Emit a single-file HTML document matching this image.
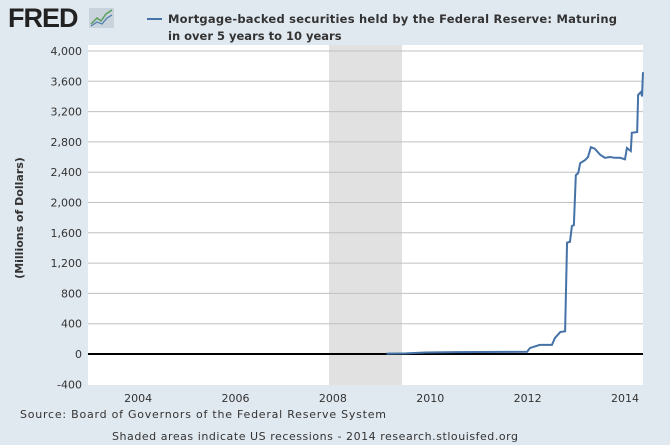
<!DOCTYPE html>
<html><head><meta charset="utf-8"><style>
body{margin:0;background:#e1e9f0;font-family:"DejaVu Sans",sans-serif}
svg{display:block}
</style></head><body>
<svg width="670" height="445" font-family="DejaVu Sans, sans-serif">
<rect width="670" height="445" fill="#e1e9f0"/>
<text x="8" y="27" font-size="27" font-weight="bold" fill="#222" letter-spacing="-1" font-family="Liberation Sans, sans-serif">FRED</text>
<rect x="89" y="8" width="25" height="20" fill="#c8d3dc"/>
<polyline points="91,24 97,18 101,21 106,14 112,10" fill="none" stroke="#5a9e5a" stroke-width="1.5"/>
<polyline points="91,26 97,22 102,24 107,18 112,15" fill="none" stroke="#4a7ab0" stroke-width="1.2"/>
<line x1="147" y1="19" x2="162" y2="19" stroke="#4572a7" stroke-width="2"/>
<text x="168" y="23" font-size="11.5" font-weight="bold" fill="#333" textLength="449">Mortgage-backed securities held by the Federal Reserve: Maturing</text>
<text x="168" y="40" font-size="11.5" font-weight="bold" fill="#333">in over 5 years to 10 years</text>
<g id="plot"></g>
<text transform="translate(23,218) rotate(-90)" text-anchor="middle" font-size="11" font-weight="bold" fill="#333">(Millions of Dollars)</text>
<text x="20" y="418" font-size="11" fill="#333" textLength="366">Source: Board of Governors of the Federal Reserve System</text>
<text x="112" y="440" font-size="11" fill="#333" textLength="406">Shaded areas indicate US recessions - 2014 research.stlouisfed.org</text>
</svg>
<script>
const years=[2009.1,2009.5,2009.9,2010.5,2011.5,2011.99,2012.05,2012.25,2012.50,2012.56,2012.67,2012.77,2012.81,2012.87,2012.91,2012.95,2012.99,2013.04,2013.08,2013.18,2013.24,2013.30,2013.38,2013.49,2013.59,2013.69,2013.79,2013.90,2014.00,2014.04,2014.12,2014.14,2014.25,2014.27,2014.33,2014.35,2014.37];
const values=[5,8,20,25,28,30,80,120,120,210,290,300,1470,1480,1690,1700,2360,2390,2520,2560,2600,2730,2710,2630,2590,2600,2590,2590,2570,2720,2680,2920,2930,3420,3460,3400,3720];
const yTicks=[-400,0,400,800,1200,1600,2000,2400,2800,3200,3600,4000];
const xTicks=[2004,2006,2008,2010,2012,2014];
const recessions=[[2007.92,2009.42]];
const L=88,R=643,T=45,B=385,x0=2002.97,x1=2014.37;
const xs=v=>L+(v-x0)/(x1-x0)*(R-L);
const ys=v=>354-v/4000*303;
const ns="http://www.w3.org/2000/svg",g=document.getElementById('plot');
function mk(t,a){const e=document.createElementNS(ns,t);for(const k in a)e.setAttribute(k,a[k]);g.appendChild(e);return e;}
let e=mk('rect',{x:L,y:T,width:R-L,height:B-T,fill:'#fff'});


recessions.forEach(r=>{const s=mk('rect',{x:xs(r[0]),y:T,width:xs(r[1])-xs(r[0]),height:B-T,fill:'#e1e1e1'});

});
yTicks.forEach(v=>{
 if(v!==0&&v!==-400){const l=mk('line',{x1:L,x2:R,y1:ys(v),y2:ys(v),stroke:'#c0c0c0','stroke-width':1});
 
 }
 const t=mk('text',{x:L-6,y:ys(v)+4,'text-anchor':'end','font-size':11,fill:'#333'});
 t.textContent=v.toLocaleString('en-US');
 
 
});
const z=mk('line',{x1:L,x2:R,y1:ys(0),y2:ys(0),stroke:'#000','stroke-width':2});


xTicks.forEach(v=>{
 const t=mk('text',{x:xs(v),y:402,'text-anchor':'middle','font-size':11,fill:'#333'});
 t.textContent=v;
 
 
});
const p=mk('polyline',{points:years.map((y,i)=>xs(y)+','+ys(values[i])).join(' '),fill:'none',stroke:'#4572a7','stroke-width':2});


</script>
</body></html>
